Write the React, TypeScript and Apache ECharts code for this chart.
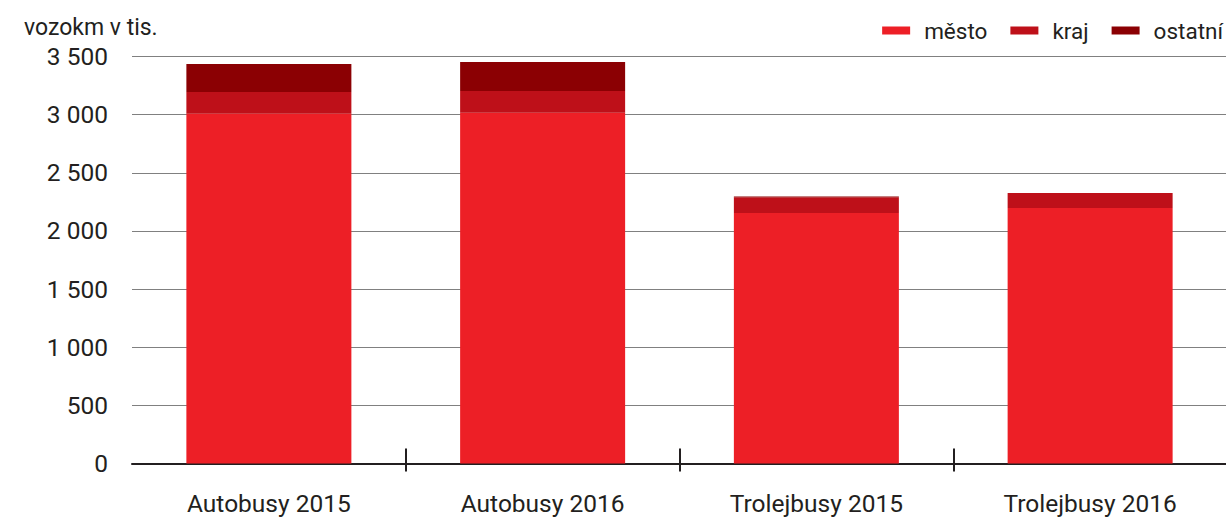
import React, { useEffect, useRef } from "react";
import * as echarts from "echarts";

const categories = ["Autobusy 2015", "Autobusy 2016", "Trolejbusy 2015", "Trolejbusy 2016"];
const mesto = [3008, 3016, 2154, 2197];
const kraj = [186, 187, 135, 129];
const ostatni = [241, 249, 6, 0];
const yTicks = { min: 0, max: 3500, interval: 500 };
const unitLabel = "vozokm v tis.";

const FONT = "Roboto, 'Noto Sans', sans-serif";
const TEXT_COLOR = "#231f20";

export default function App() {
  const ref = useRef<HTMLDivElement>(null);
  useEffect(() => {
    if (!ref.current) return;
    const chart = echarts.init(ref.current, undefined, { renderer: "svg" });
    const fmt = (v: number) => String(v).replace(/\B(?=(\d{3})+(?!\d))/g, " ");
    chart.setOption({
      animation: false,
      textStyle: { fontFamily: FONT },
      title: {
        text: unitLabel,
        left: 19,
        top: 11,
        textStyle: { fontFamily: FONT, fontSize: 23, fontWeight: "normal", color: TEXT_COLOR },
      },
      legend: {
        right: 12,
        top: 14,
        icon: "rect",
        itemWidth: 28,
        itemHeight: 8,
        itemGap: 23,
        textStyle: { fontFamily: FONT, fontSize: 22.5, color: TEXT_COLOR, padding: [0, 0, 0, 9] },
        data: ["město", "kraj", "ostatní"],
      },
      grid: { left: 132, right: 13, top: 56.5, bottom: 57.5, containLabel: false },
      xAxis: [
        {
          type: "category",
          data: categories,
          position: "bottom",
          axisLine: { show: true, lineStyle: { color: TEXT_COLOR, width: 2 } },
          axisTick: {
            show: true,
            inside: false,
            length: 8,
            interval: (i: number) => i !== 0,
            lineStyle: { color: TEXT_COLOR, width: 2 },
          },
          axisLabel: { fontFamily: FONT, fontSize: 24.5, color: TEXT_COLOR, margin: 27 },
        },
        {
          type: "category",
          data: categories,
          position: "bottom",
          axisLine: { show: false },
          axisTick: {
            show: true,
            inside: true,
            length: 15,
            interval: (i: number) => i !== 0,
            lineStyle: { color: TEXT_COLOR, width: 2 },
          },
          axisLabel: { show: false },
        },
      ],
      yAxis: {
        type: "value",
        min: yTicks.min,
        max: yTicks.max,
        interval: yTicks.interval,
        axisLine: { show: false },
        axisTick: { show: false },
        axisLabel: {
          fontFamily: FONT,
          fontSize: 24.5,
          color: TEXT_COLOR,
          margin: 24,
          formatter: fmt,
        },
        splitLine: { show: true, lineStyle: { color: "#808080", width: 1 } },
      },
      series: [
        { name: "město", type: "bar", stack: "s", data: mesto, barWidth: 165, itemStyle: { color: "#ed1f26" } },
        { name: "kraj", type: "bar", stack: "s", data: kraj, barWidth: 165, itemStyle: { color: "#be1019" } },
        { name: "ostatní", type: "bar", stack: "s", data: ostatni, barWidth: 165, itemStyle: { color: "#8b0003" } },
      ],
    });
    return () => chart.dispose();
  }, []);
  return (
    <div
      ref={ref}
      style={{ position: "fixed", left: 0, top: 0, width: 1240, height: 521, background: "#fff" }}
    />
  );
}
